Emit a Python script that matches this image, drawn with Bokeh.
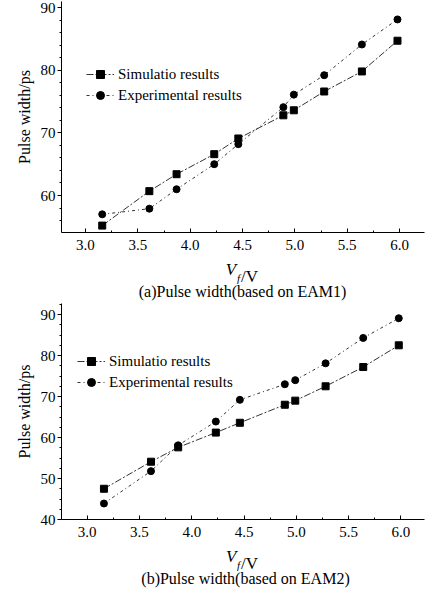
from bokeh.plotting import figure
from bokeh.models import Range1d, FixedTicker, Legend, LinearAxis
from bokeh.layouts import column
from bokeh.embed import file_html
from bokeh.resources import INLINE

# ---- data ----
vf = [3.16, 3.61, 3.87, 4.23, 4.46, 4.89, 4.99, 5.28, 5.64, 5.98]
sim_a = [55.2, 60.7, 63.4, 66.6, 69.1, 72.8, 73.6, 76.6, 79.8, 84.7]
exp_a = [57.0, 57.9, 61.0, 65.0, 68.2, 74.1, 76.1, 79.2, 84.1, 88.1]
sim_b = [47.5, 54.1, 57.6, 61.2, 63.6, 68.0, 69.0, 72.5, 77.2, 82.5]
exp_b = [43.9, 51.8, 58.1, 63.9, 69.2, 73.0, 74.0, 78.1, 84.3, 89.1]
x_ticks = [3.0, 3.5, 4.0, 4.5, 5.0, 5.5, 6.0]
y_ticks_a = [60, 70, 80, 90]
y_ticks_b = [40, 50, 60, 70, 80, 90]
sim_label = "Simulatio results"
exp_label = "Experimental results"
cap_a = "(a)Pulse width(based on EAM1)"
cap_b = "(b)Pulse width(based on EAM2)"

FONT = "Liberation Serif"


def text_axis(p, xpos, txt, size, style, standoff):
    ax = LinearAxis(ticker=FixedTicker(ticks=[xpos], minor_ticks=[]),
                    major_label_overrides={xpos: txt})
    ax.axis_line_color = None
    ax.major_tick_line_color = None
    ax.minor_tick_line_color = None
    ax.major_tick_in = 0
    ax.major_tick_out = 0
    ax.major_label_standoff = standoff
    ax.major_label_text_font = FONT
    ax.major_label_text_font_size = size
    ax.major_label_text_font_style = style
    ax.major_label_text_color = "black"
    p.add_layout(ax, "below")
    return ax


def make(sim, exp, yticks, xr, yr, h, mbl, mbr, mbt, mbb, nminor_y,
         leg_loc, lab_x, cap_x, caption):
    p = figure(width=426, height=h, output_backend="svg", toolbar_location=None,
               x_range=Range1d(*xr), y_range=Range1d(*yr),
               min_border_left=mbl, min_border_right=mbr,
               min_border_top=mbt, min_border_bottom=mbb)
    p.outline_line_color = None
    p.grid.visible = False
    p.background_fill_color = "white"

    l1 = p.line(vf, sim, line_color="#333333", line_width=1, line_dash="7 2 2 2")
    s1 = p.scatter(vf, sim, marker="square", size=7, color="black")
    l2 = p.line(vf, exp, line_color="#333333", line_width=1, line_dash="3 3 1 3")
    s2 = p.scatter(vf, exp, marker="circle", size=7, color="black")

    leg = Legend(items=[(sim_label, [l1, s1]), (exp_label, [l2, s2])],
                 location=leg_loc)
    leg.label_text_font = FONT
    leg.label_text_font_size = "15px"
    leg.label_text_color = "black"
    leg.background_fill_alpha = 0
    leg.border_line_color = None
    leg.padding = 0
    leg.margin = 0
    leg.spacing = 1
    leg.glyph_width = 28
    leg.glyph_height = 20
    leg.label_height = 20
    leg.label_standoff = 4
    p.add_layout(leg, "center")

    xa = p.xaxis[0]
    xa.ticker = FixedTicker(ticks=x_ticks,
                            minor_ticks=[t + 0.25 for t in x_ticks] + [x_ticks[0] - 0.25])
    xa.major_label_overrides = {t: f"{t:.1f}" for t in x_ticks}
    ya = p.yaxis[0]
    step = 10 / nminor_y
    ya.ticker = FixedTicker(ticks=yticks,
                            minor_ticks=[yticks[0] - 10 + i * step for i in range(nminor_y * (len(yticks) + 1) + 1)])
    for ax in (xa, ya):
        ax.axis_line_color = "black"
        ax.major_tick_line_color = "black"
        ax.minor_tick_line_color = "black"
        ax.major_label_text_font = FONT
        ax.major_label_text_font_size = "15px"
        ax.major_label_text_color = "black"
    xa.major_tick_in = 4
    xa.major_tick_out = 0
    xa.minor_tick_in = 2
    xa.minor_tick_out = 0
    xa.major_label_standoff = 7
    ya.major_tick_in = 0
    ya.major_tick_out = 4
    ya.minor_tick_in = 0
    ya.minor_tick_out = 2
    ya.major_label_standoff = 2
    ya.axis_label = "Pulse width/ps"
    ya.axis_label_text_font = FONT
    ya.axis_label_text_font_size = "16px"
    ya.axis_label_text_font_style = "normal"
    ya.axis_label_text_color = "black"
    ya.axis_label_standoff = 5

    # x-axis label V_f/V built from text-only axes below the main axis
    xv, xf, xs = lab_x
    text_axis(p, xv, "V", "17px", "italic", 7)
    text_axis(p, xf, "f", "11px", "italic", -10)
    text_axis(p, xs, "/V", "17px", "normal", -20)
    text_axis(p, cap_x, caption, "16px", "normal", -6)
    return p


p1 = make(sim_a, exp_a, y_ticks_a, (2.771, 6.238), (54.1, 90.96), 302,
          61, 2, 1, 70, 5, (25, 127), (4.390, 4.461, 4.566), 4.5, cap_a)
p2 = make(sim_b, exp_b, y_ticks_b, (2.754, 6.226), (40.0, 92.7), 288,
          59, 0, 1, 71, 4, (16, 127), (4.376, 4.448, 4.552), 4.514, cap_b)

layout = column(p1, p2, spacing=0)
open("out.html", "w").write(file_html(layout, INLINE))
